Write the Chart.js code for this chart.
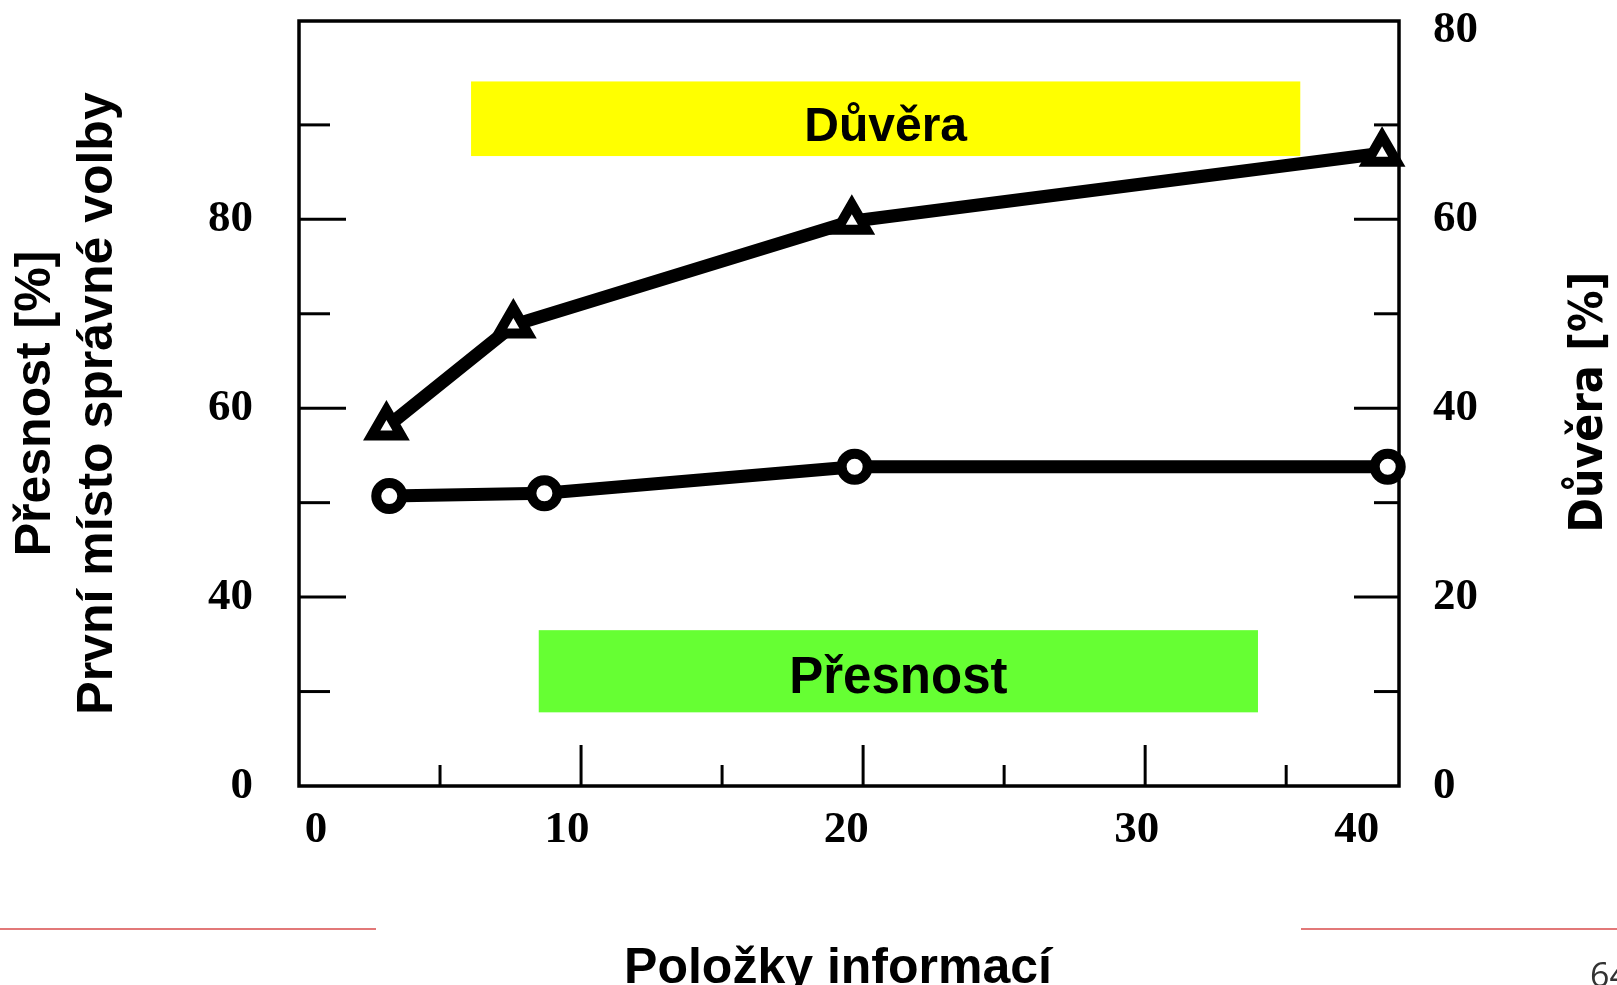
<!DOCTYPE html>
<html>
<head>
<meta charset="utf-8">
<title>Přesnost a důvěra</title>
<script src="https://cdn.jsdelivr.net/npm/chart.js@4.4.1/dist/chart.umd.min.js"></script>
<style>
  html, body { margin: 0; padding: 0; background: #fff; overflow: hidden; }
</style>
</head>
<body>
<canvas id="chart" width="1617" height="985"></canvas>
<script>
// hodnoty
const presnostX = [3.2, 8.7, 19.7, 38.6];
const presnostY = [50.7, 51.0, 53.8, 53.8];   // levá osa
const duveraX = [3.1, 7.6, 19.6, 38.4];
const duveraY = [38.0, 48.8, 59.8, 67.0];     // pravá osa

// popisky osy x sedí tam, kam je dal původní obrázek
const xTickLabels = ['0', '10', '20', '30', '40'];
const xTickAt = [0.6, 9.5, 19.4, 29.7, 37.5];
const xMajor = [10, 20, 30];
const xMinor = [5, 15, 25, 35];

// levá osa je přerušená - dole je napsaná 0
const leftTickLabels = ['0', '40', '60', '80'];
const leftTickAt = [20, 40, 60, 80];
const leftMajor = [40, 60, 80];
const leftMinor = [30, 50, 70, 90];

const rightTickLabels = ['0', '20', '40', '60', '80'];
const rightTickAt = [0, 20, 40, 60, 80];
const rightMajor = [20, 40, 60];
const rightMinor = [10, 30, 50, 70];

const tickFont = { family: "'Liberation Serif', 'DejaVu Serif', serif", weight: 'bold', size: 45, lineHeight: 0.9 };

// barevné štítky (x a pravá osa y)
const boxes = [
  { text: 'Důvěra', color: '#ffff00', x0: 6.1, x1: 35.5, y0: 66.7, y1: 74.6, size: 48, base: 15 },
  { text: 'Přesnost', color: '#66ff33', x0: 8.5, x1: 34.0, y0: 7.8, y1: 16.5, size: 51, base: 19 }
];

// bez extra okrajů od popisků, plocha grafu se řídí jen šířkami os
function noPad(s) {
  s.paddingTop = 0; s.paddingBottom = 0; s.paddingLeft = 0; s.paddingRight = 0;
}

const decor = {
  id: 'decor',
  beforeDatasetsDraw(chart) {
    const { ctx, chartArea: a, scales } = chart;
    ctx.save();
    boxes.forEach(b => {
      const l = scales.x.getPixelForValue(b.x0), r = scales.x.getPixelForValue(b.x1);
      const t = scales.y1.getPixelForValue(b.y1), btm = scales.y1.getPixelForValue(b.y0);
      ctx.fillStyle = b.color;
      ctx.fillRect(l, t, r - l, btm - t);
      ctx.fillStyle = '#000';
      ctx.font = 'bold ' + b.size + "px 'Liberation Sans', Arial, sans-serif";
      ctx.textAlign = 'center';
      ctx.textBaseline = 'alphabetic';
      ctx.fillText(b.text, (l + r) / 2, btm - b.base);
    });

    // ticky dovnitř grafu
    ctx.strokeStyle = '#000';
    ctx.lineWidth = 3;
    const line = (x1, y1, x2, y2) => { ctx.beginPath(); ctx.moveTo(x1, y1); ctx.lineTo(x2, y2); ctx.stroke(); };
    leftMajor.forEach(v => { const y = scales.y.getPixelForValue(v); line(a.left, y, a.left + 47, y); });
    leftMinor.forEach(v => { const y = scales.y.getPixelForValue(v); line(a.left, y, a.left + 31, y); });
    rightMajor.forEach(v => { const y = scales.y1.getPixelForValue(v); line(a.right - 45, y, a.right, y); });
    rightMinor.forEach(v => { const y = scales.y1.getPixelForValue(v); line(a.right - 25, y, a.right, y); });
    xMajor.forEach(v => { const x = scales.x.getPixelForValue(v); line(x, a.bottom, x, a.bottom - 41); });
    xMinor.forEach(v => { const x = scales.x.getPixelForValue(v); line(x, a.bottom, x, a.bottom - 21); });
    ctx.restore();
  },
  afterDatasetsDraw(chart) {
    const { ctx, chartArea: a } = chart;
    ctx.save();
    ctx.strokeStyle = '#000';
    ctx.lineWidth = 3.5;
    ctx.strokeRect(a.left, a.top, a.right - a.left, a.bottom - a.top);
    ctx.restore();
  },
  afterDraw(chart) {
    const { ctx } = chart;
    ctx.save();
    // pravý popisek osy
    ctx.translate(1590, 402);
    ctx.rotate(-Math.PI / 2);
    ctx.fillStyle = '#000';
    ctx.font = "bold 46px 'DejaVu Sans Condensed', 'DejaVu Sans', sans-serif";
    ctx.textAlign = 'center';
    ctx.textBaseline = 'middle';
    ctx.fillText('Důvěra [%]', 0, 0);
    ctx.restore();

    ctx.save();
    ctx.fillStyle = '#000';
    ctx.font = "bold 50px 'Liberation Sans', Arial, sans-serif";
    ctx.textAlign = 'center';
    ctx.fillText('Položky informací', 838, 983);

    // červené linky šablony
    ctx.strokeStyle = 'rgb(226,120,120)';
    ctx.lineWidth = 2;
    ctx.beginPath(); ctx.moveTo(0, 929); ctx.lineTo(376, 929); ctx.stroke();
    ctx.beginPath(); ctx.moveTo(1301, 929); ctx.lineTo(1617, 929); ctx.stroke();

    ctx.fillStyle = '#333';
    ctx.font = "34px 'Open Sans', sans-serif";
    ctx.textAlign = 'left';
    ctx.fillText('64', 1590, 987);
    ctx.restore();
  }
};

const ctx = document.getElementById('chart');
new Chart(ctx, {
  type: 'line',
  data: {
    datasets: [
      {
        label: 'Přesnost',
        data: presnostX.map((x, i) => ({ x: x, y: presnostY[i] })),
        yAxisID: 'y',
        borderColor: '#000',
        borderWidth: 13,
        tension: 0,
        pointStyle: 'circle',
        pointRadius: 13,
        pointBorderWidth: 10,
        pointBorderColor: '#000',
        pointBackgroundColor: '#fff',
        clip: false
      },
      {
        label: 'Důvěra',
        data: duveraX.map((x, i) => ({ x: x, y: duveraY[i] })),
        yAxisID: 'y1',
        borderColor: '#000',
        borderWidth: 13,
        tension: 0,
        pointStyle: 'triangle',
        pointRadius: 17,
        pointBorderWidth: 10,
        pointBorderColor: '#000',
        pointBackgroundColor: '#fff',
        clip: false
      }
    ]
  },
  options: {
    responsive: false,
    animation: false,
    layout: { autoPadding: false, padding: { top: 21, left: 0, right: 0, bottom: 0 } },
    plugins: { legend: { display: false }, tooltip: { enabled: false } },
    scales: {
      x: {
        type: 'linear',
        min: 0,
        max: 39,
        grid: { display: false, drawTicks: false },
        border: { display: false },
        afterBuildTicks: s => { s.ticks = xTickAt.map(v => ({ value: v })); },
        afterFit: s => { s.height = 199; noPad(s); },
        ticks: { autoSkip: false, maxRotation: 0, padding: 24, color: '#000', font: tickFont,
                 callback: (v, i) => xTickLabels[i] }
      },
      y: {
        position: 'left',
        min: 20,
        max: 101,
        grid: { display: false, drawTicks: false },
        border: { display: false },
        afterBuildTicks: s => { s.ticks = leftTickAt.map(v => ({ value: v })); },
        afterFit: s => { s.width = 299; noPad(s); },
        ticks: { autoSkip: false, padding: 46, color: '#000', font: tickFont,
                 callback: (v, i) => leftTickLabels[i] },
        title: {
          display: true,
          text: ['Přesnost [%]', 'První místo správné volby'],
          color: '#000',
          font: { family: "'Liberation Sans', Arial, sans-serif", weight: 'bold', size: 50, lineHeight: 1.24 },
          padding: { top: 5, bottom: 0 }
        }
      },
      y1: {
        position: 'right',
        min: 0,
        max: 81,
        grid: { display: false, drawTicks: false },
        border: { display: false },
        afterBuildTicks: s => { s.ticks = rightTickAt.map(v => ({ value: v })); },
        afterFit: s => { s.width = 218; noPad(s); },
        ticks: { autoSkip: false, padding: 34, color: '#000', font: tickFont,
                 callback: (v, i) => rightTickLabels[i] }
      }
    }
  },
  plugins: [decor]
});
</script>
</body>
</html>
